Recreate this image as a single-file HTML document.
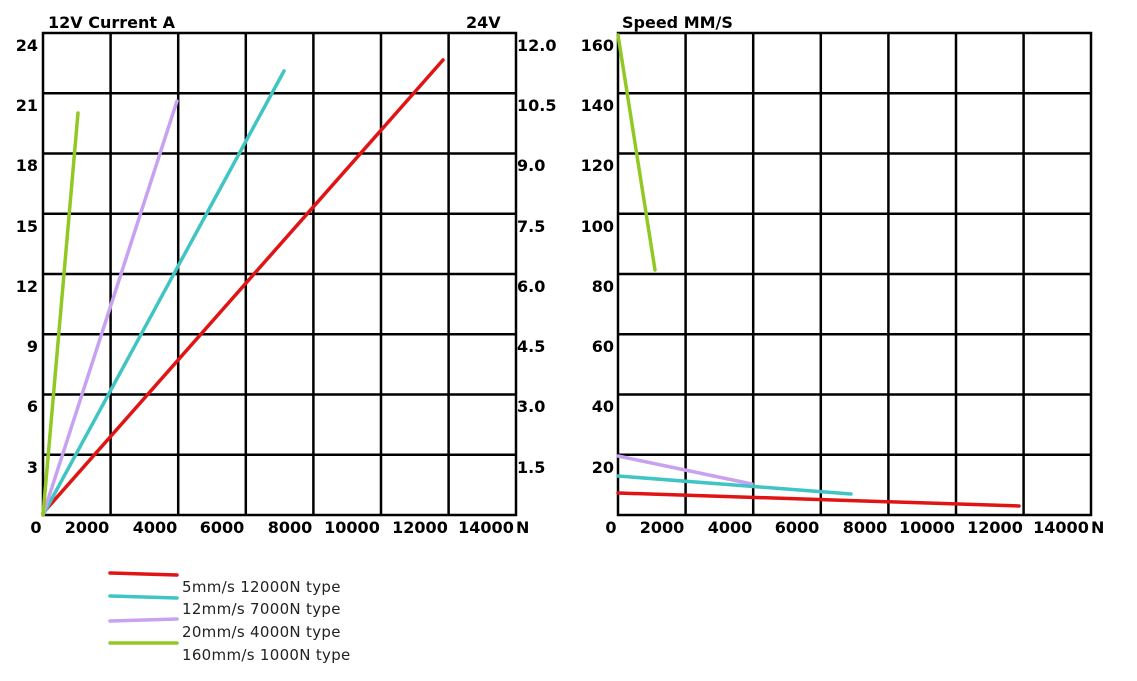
<!DOCTYPE html>
<html><head><meta charset="utf-8"><style>body{margin:0;background:#fff}svg{display:block}</style></head><body>
<svg width="1137" height="681" xmlns="http://www.w3.org/2000/svg" font-family="DejaVu Sans, Liberation Sans, sans-serif">
<g stroke="#000" stroke-width="2.5" fill="none">
<rect x="43" y="33" width="473" height="482"/>
<path d="M110.6 33V515M178.2 33V515M245.8 33V515M313.4 33V515M381 33V515M448.6 33V515"/>
<path d="M43 93.25H516M43 153.5H516M43 213.75H516M43 274H516M43 334.25H516M43 394.5H516M43 454.75H516"/>
<rect x="618" y="33" width="473" height="482"/>
<path d="M685.6 33V515M753.2 33V515M820.8 33V515M888.4 33V515M956 33V515M1023.6 33V515"/>
<path d="M618 93.25H1091M618 153.5H1091M618 213.75H1091M618 274H1091M618 334.25H1091M618 394.5H1091M618 454.75H1091"/>
</g>
<g stroke-width="3.5" stroke-linecap="round">
<line x1="43" y1="513" x2="443" y2="60" stroke="#e01414"/>
<line x1="43" y1="515" x2="284" y2="71" stroke="#40c4c4"/>
<line x1="43" y1="515" x2="177" y2="101" stroke="#c8a2f0"/>
<line x1="43" y1="515" x2="78" y2="113" stroke="#92c824"/>
<line x1="618" y1="35" x2="655" y2="270" stroke="#92c824"/>
<line x1="618" y1="456" x2="752" y2="484" stroke="#c8a2f0"/>
<line x1="618" y1="476" x2="851" y2="494" stroke="#40c4c4"/>
<line x1="618" y1="493" x2="1019" y2="506" stroke="#e01414"/>
<line x1="110" y1="573" x2="177" y2="575" stroke="#e01414"/>
<line x1="110" y1="596" x2="177" y2="598" stroke="#40c4c4"/>
<line x1="110" y1="621" x2="177" y2="619" stroke="#c8a2f0"/>
<line x1="110" y1="643" x2="177" y2="643" stroke="#92c824"/>
</g>
<g font-size="16" font-weight="bold" fill="#000">
<text x="48" y="28">12V Current A</text>
<text x="466" y="28">24V</text>
<text x="622" y="28">Speed MM/S</text>
<g text-anchor="end">
<text x="38" y="51">24</text><text x="38" y="111">21</text><text x="38" y="171">18</text><text x="38" y="232">15</text><text x="38" y="292">12</text><text x="38" y="352">9</text><text x="38" y="412">6</text><text x="38" y="473">3</text>
<text x="614" y="51">160</text><text x="614" y="111">140</text><text x="614" y="171">120</text><text x="614" y="232">100</text><text x="614" y="292">80</text><text x="614" y="352">60</text><text x="614" y="412">40</text><text x="614" y="473">20</text>
</g>
<text x="517" y="51">12.0</text><text x="517" y="111">10.5</text><text x="517" y="171">9.0</text><text x="517" y="232">7.5</text><text x="517" y="292">6.0</text><text x="517" y="352">4.5</text><text x="517" y="412">3.0</text><text x="517" y="473">1.5</text>
<g text-anchor="middle">
<text x="36" y="533">0</text><text x="87" y="533">2000</text><text x="155" y="533">4000</text><text x="222" y="533">6000</text><text x="290" y="533">8000</text><text x="352" y="533">10000</text><text x="420" y="533">12000</text><text x="486" y="533">14000</text>
<text x="611" y="533">0</text><text x="662" y="533">2000</text><text x="730" y="533">4000</text><text x="797" y="533">6000</text><text x="865" y="533">8000</text><text x="927" y="533">10000</text><text x="995" y="533">12000</text><text x="1061" y="533">14000</text>
</g>
<text x="516" y="533">N</text><text x="1091" y="533">N</text>
</g>
<g font-size="15" fill="#222" letter-spacing="0.3">
<text x="182" y="592">5mm/s 12000N type</text>
<text x="182" y="614">12mm/s 7000N type</text>
<text x="182" y="637">20mm/s 4000N type</text>
<text x="182" y="660">160mm/s 1000N type</text>
</g>
</svg>
</body></html>
